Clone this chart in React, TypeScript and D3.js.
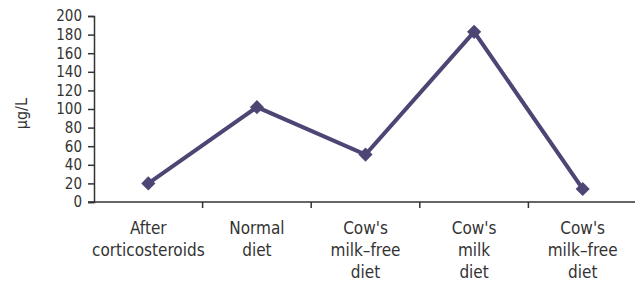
import React, { useEffect, useRef } from 'react';
import * as d3 from 'd3';

const categories = ['After|corticosteroids', 'Normal|diet', "Cow's|milk–free|diet", "Cow's|milk|diet", "Cow's|milk–free|diet"];
const values = [20, 102, 51, 183, 14];
const yTicks = [0, 20, 40, 60, 80, 100, 120, 140, 160, 180, 200];

const App = () => {
  const ref = useRef<SVGSVGElement>(null);

  useEffect(() => {
    const width = 635;
    const height = 287;
    const margin = { top: 16, right: 0, bottom: 85, left: 94 };
    const font = "'Liberation Sans Narrow', 'DejaVu Sans Condensed', 'Arial Narrow', sans-serif";
    const ink = '#333';
    const lineColor = '#4d4674';

    const svg = d3.select(ref.current);
    svg.selectAll('*').remove();

    const idx = categories.map((_, i) => String(i));
    const xScale = d3.scaleBand()
      .domain(idx)
      .range([margin.left, width + 2]);

    const yScale = d3.scaleLinear()
      .domain([0, 200])
      .range([height - margin.bottom, margin.top]);

    const y0 = yScale(0);

    // y axis
    const yAxis = svg.append('g')
      .attr('transform', `translate(${margin.left}, 0)`)
      .call(d3.axisLeft(yScale).tickValues(yTicks).tickSize(6).tickPadding(6));
    yAxis.select('.domain').attr('stroke', ink).attr('stroke-width', 1.5);
    yAxis.selectAll('line').attr('stroke', ink).attr('stroke-width', 1.5);
    yAxis.selectAll('text')
      .style('font-family', font)
      .style('font-size', '15px')
      .attr('fill', ink);

    // x axis
    svg.append('line')
      .attr('x1', margin.left - 6)
      .attr('x2', width)
      .attr('y1', y0)
      .attr('y2', y0)
      .attr('stroke', ink)
      .attr('stroke-width', 1.5);

    idx.slice(1).forEach(d => {
      svg.append('line')
        .attr('x1', xScale(d)!)
        .attr('x2', xScale(d)!)
        .attr('y1', y0)
        .attr('y2', y0 + 6)
        .attr('stroke', ink)
        .attr('stroke-width', 1.5);
    });

    categories.forEach((c, i) => {
      const cx = xScale(String(i))! + xScale.bandwidth() / 2;
      const t = svg.append('text')
        .attr('x', cx)
        .attr('y', 234)
        .style('text-anchor', 'middle')
        .style('font-family', font)
        .style('font-size', '17px')
        .attr('fill', ink);
      c.split('|').forEach((s, j) => {
        t.append('tspan').attr('x', cx).attr('dy', j === 0 ? 0 : 22).text(s);
      });
    });

    // y label
    svg.append('text')
      .attr('transform', `translate(27, ${yScale(95)}) rotate(-90)`)
      .style('text-anchor', 'middle')
      .style('font-family', font)
      .style('font-size', '16px')
      .attr('fill', ink)
      .text('µg/L');

    const line = d3.line<number>()
      .x((_, i) => xScale(String(i))! + xScale.bandwidth() / 2)
      .y(d => yScale(d));

    svg.append('path')
      .datum(values)
      .attr('fill', 'none')
      .attr('stroke', lineColor)
      .attr('stroke-width', 4)
      .attr('d', line);

    svg.selectAll('.marker')
      .data(values)
      .enter()
      .append('path')
      .attr('d', d3.symbol(d3.symbolSquare, 100)())
      .attr('transform', (d, i) => `translate(${xScale(String(i))! + xScale.bandwidth() / 2}, ${yScale(d)}) rotate(45)`)
      .attr('fill', lineColor);
  }, []);

  return (
    <svg ref={ref} width={635} height={287} style={{ position: 'absolute', left: 0, top: 0 }}></svg>
  );
};

export default App;
